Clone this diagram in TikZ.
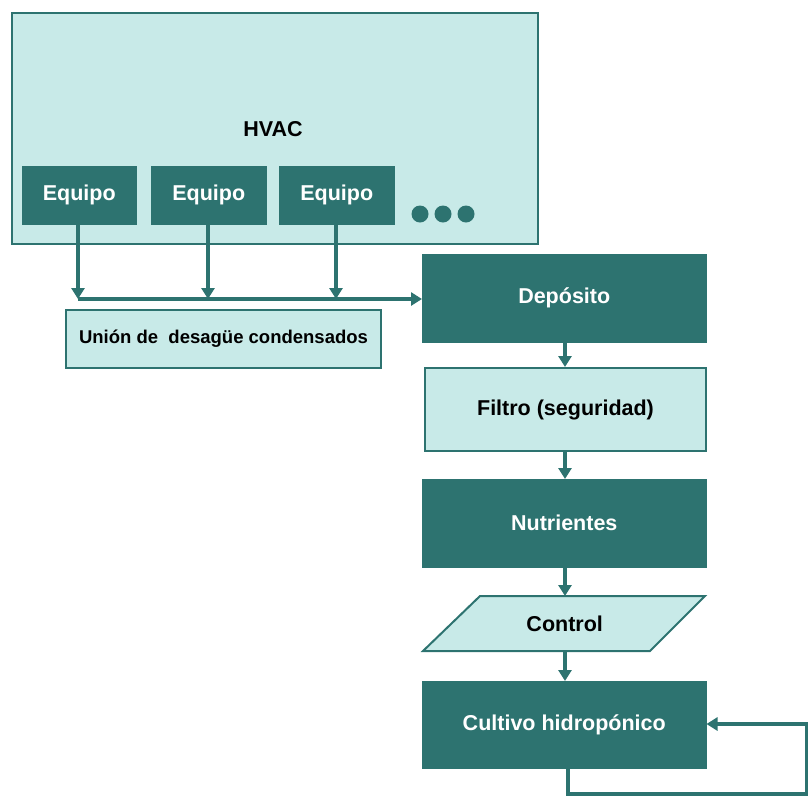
\documentclass[tikz,border=0pt]{standalone}
\usepackage{fontspec}
\setmainfont{Liberation Sans}
\usetikzlibrary{arrows.meta}
\definecolor{teal1}{HTML}{2D7370}
\definecolor{pale}{HTML}{C8EAE8}
\tikzset{
  darkbox/.style={draw=teal1,fill=teal1,line width=1.5pt,text=white,font=\bfseries\fontsize{21.5}{25}\selectfont,inner sep=0pt},
  lightbox/.style={draw=teal1,fill=pale,line width=2pt,text=black,font=\bfseries\fontsize{21.5}{25}\selectfont,inner sep=0pt},
  flow/.style={draw=teal1,line width=3.3pt,-{Triangle[length=11pt,width=13pt]}},
  dot/.style={circle,fill=teal1,inner sep=0pt,minimum size=17pt}
}
\begin{document}
\begin{tikzpicture}[x=1pt,y=-1pt]
\useasboundingbox (0,0) rectangle (808,796);
% HVAC enclosure
\node[lightbox,minimum width=526pt,minimum height=231pt,anchor=north west] (hvac) at (11,12) {};
\node[font=\bfseries\fontsize{21.5}{25}\selectfont] (hvaclbl) at (273,129) {HVAC};
% equipment units
\node[darkbox,minimum width=113pt,minimum height=57pt,anchor=north west] (e1) at (22,166) {Equipo};
\node[darkbox,minimum width=114pt,minimum height=57pt,anchor=north west] (e2) at (151,166) {Equipo};
\node[darkbox,minimum width=114pt,minimum height=57pt,anchor=north west] (e3) at (279,166) {Equipo};
\node[dot] (d1) at (420,214) {};
\node[dot] (d2) at (443,214) {};
\node[dot] (d3) at (466,214) {};
% condensate header
\node[lightbox,minimum width=315pt,minimum height=58pt,anchor=north west,font=\bfseries\fontsize{18.5}{22}\selectfont] (union) at (65,309) {Unión de\ \ desagüe condensados};
% main chain
\node[darkbox,minimum width=283pt,minimum height=87pt,anchor=north west] (dep) at (422,254) {Depósito};
\node[lightbox,minimum width=281pt,minimum height=83pt,anchor=north west] (filt) at (424,367) {Filtro (seguridad)};
\node[darkbox,minimum width=283pt,minimum height=87pt,anchor=north west] (nut) at (422,479) {Nutrientes};
% control step (parallelogram)
\node[minimum width=227pt,minimum height=55pt,inner sep=0pt,anchor=north west] (ctrl) at (451,596) {};
\draw[teal1,fill=pale,line width=2pt] (480,596) -- (705,596) -- (650,651) -- (423,651) -- cycle;
\node[font=\bfseries\fontsize{21.5}{25}\selectfont] (ctrllbl) at (ctrl.center) {Control};
\node[darkbox,minimum width=283pt,minimum height=86pt,anchor=north west] (cult) at (422,681) {Cultivo hidropónico};
% drain collection
\coordinate (j1) at (78,299);
\coordinate (j2) at (208,299);
\coordinate (j3) at (336,299);
\draw[flow] (e1.south -| j1) -- (j1);
\draw[flow] (e2.south -| j2) -- (j2);
\draw[flow] (e3.south -| j3) -- (j3);
\draw[flow] (j1) -- (dep.west |- j1);
% main chain arrows
\draw[flow] (dep.south -| 565,0) -- (filt.north -| 565,0);
\draw[flow] (filt.south -| 565,0) -- (nut.north -| 565,0);
\draw[flow] (nut.south -| 565,0) -- (ctrl.north -| 565,0);
\draw[flow] (ctrl.south -| 565,0) -- (cult.north -| 565,0);
% recirculation loop
\coordinate (r1) at (568,794);
\coordinate (r2) at (807,794);
\coordinate (r3) at (807,724);
\draw[flow] (cult.south -| r1) -- (r1) -- (r2) -- (r3) -- (cult.east |- r3);
\end{tikzpicture}
\end{document}
